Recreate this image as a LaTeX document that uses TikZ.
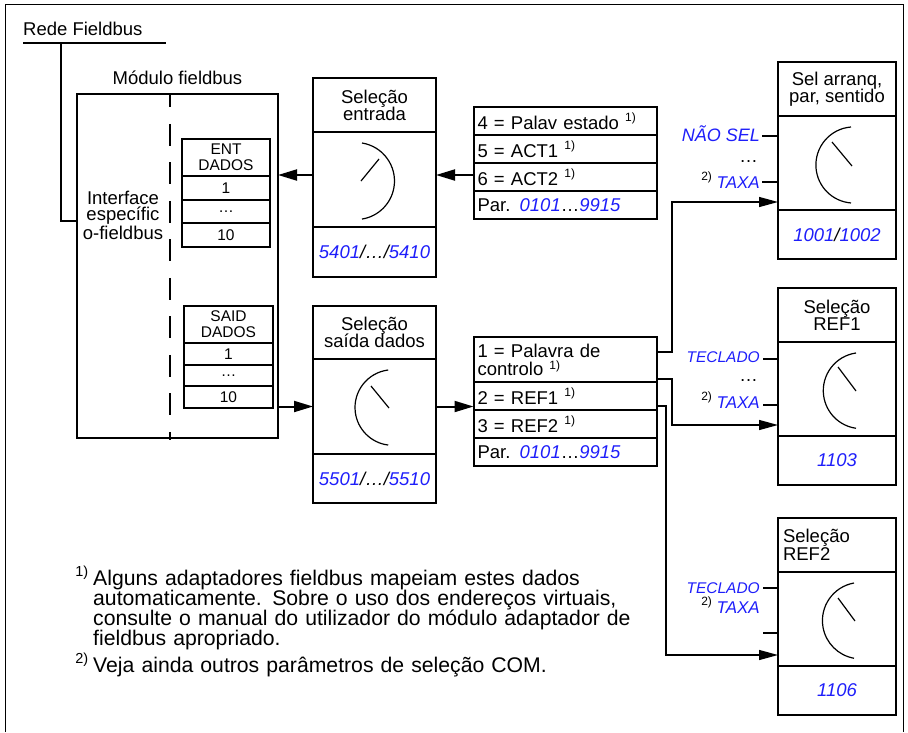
\documentclass[tikz,border=0pt]{standalone}
\usepackage{fontspec}
\setmainfont{Liberation Sans}
\usepackage{tikz}
\usetikzlibrary{arrows.meta,positioning}
\definecolor{ParBlue}{RGB}{30,30,250}
\newcommand{\lblfont}{\fontsize{18.5pt}{16.8pt}\selectfont}
\newcommand{\tabfont}{\fontsize{15.5pt}{16pt}\selectfont}
\newcommand{\notefont}{\fontsize{21.2pt}{20.3pt}\selectfont}
\newcommand{\fnsup}[1]{\raisebox{7.5pt}{\fontsize{12pt}{12pt}\selectfont #1}}
\newcommand{\notesup}[1]{\raisebox{8.5pt}{\fontsize{14.5pt}{14.5pt}\selectfont #1}}
\newcommand{\pnum}[1]{\textcolor{ParBlue}{\textit{#1}}}
\setlength{\lineskiplimit}{-30pt}

\begin{document}
\begin{tikzpicture}[
    x=1pt, y=1pt,
    cellbox/.style={
        draw,
        line width=2pt,
        inner sep=0pt,
        outer sep=0pt,
        align=center,
        font=\lblfont
    },
    selhead/.style={cellbox, minimum width=123pt, minimum height=54pt},
    seldial/.style={cellbox, minimum width=123pt, minimum height=95pt},
    selpar/.style={cellbox, minimum width=123pt, minimum height=50pt, font=\lblfont\itshape},
    rhead/.style={cellbox, minimum width=118pt, minimum height=54pt},
    rdial/.style={cellbox, minimum width=118pt, minimum height=94pt},
    rpar/.style={cellbox, minimum width=118pt, minimum height=49pt, font=\lblfont\itshape},
    listrow/.style={cellbox, minimum height=28pt, text width=175.5pt, inner xsep=4pt, align=left},
    tabrow/.style={cellbox, font=\tabfont, minimum width=88pt, minimum height=23.7pt},
    tabhead/.style={tabrow, minimum height=37pt},
    optlbl/.style={inner sep=0pt, anchor=base east, text=ParBlue},
    flow/.style={-{Triangle[length=19pt, width=11pt]}, line width=2pt},
    link/.style={-{Triangle[length=19pt, width=10pt]}, line width=1.3pt},
    wire/.style={line width=2pt},
    tick/.style={line width=2pt},
    dial/.style={line width=1.2pt}
]
    \useasboundingbox (0,0) rectangle (908,-732);
    % outer frame
    \draw[line width=1pt] (5.5,-732) -- (5.5,-4) -- (903,-4) -- (903,-732);

    % fieldbus network
    \node[anchor=base west, inner sep=0pt, font=\lblfont] (net) at (23,-35) {Rede Fieldbus};
    \coordinate (netL) at (23,-43);
    \coordinate (netR) at (166,-43);
    \coordinate (netTap) at (61,-43);
    \draw[wire] (netL) -- (netR);

    % fieldbus module
    \node[draw, line width=2pt, outer sep=0pt, minimum width=201pt, minimum height=344pt] (module) at (177.5,-266) {};
    \node[font=\lblfont, inner sep=0pt, above=9pt of module] (modlbl) {Módulo fieldbus};
    \draw[wire] (netTap) |- ([yshift=45pt]module.west);
    \coordinate (dashTop) at (170,-94);
    \coordinate (dashBot) at (170,-440);
    \draw[wire, dash pattern=on 22pt off 16.5pt, dash phase=8.6pt] (dashTop) -- (dashBot);
    \node[font=\lblfont, text width=90pt, align=center, inner sep=0pt, anchor=base] (iface) at (123,-204) {Interface\\específic\\o-fieldbus};

    \node[tabhead] (entHead) at (226,-157.5) {ENT\\DADOS};
    \node[tabrow, below=0pt of entHead] (ent1) {1};
    \node[tabrow, below=0pt of ent1] (ent2) {…};
    \node[tabrow, below=0pt of ent2] (ent3) {10};

    \node[tabhead, minimum width=89pt] (saidHead) at (228.5,-324.5) {SAID\\DADOS};
    \node[tabrow, minimum width=89pt, minimum height=21.7pt, below=0pt of saidHead] (said1) {1};
    \node[tabrow, minimum width=89pt, minimum height=21.7pt, below=0pt of said1] (said2) {…};
    \node[tabrow, minimum width=89pt, minimum height=21.7pt, below=0pt of said2] (said3) {10};

    % input selection
    \node[selhead] (inHead) at (374.5,-105) {Seleção\\entrada};
    \node[seldial, below=0pt of inHead] (inDial) {};
    \node[selpar, below=0pt of inDial] (inPar) {\pnum{5401}/…/\pnum{5410}};
    \draw[dial] ([shift={(-12.5,36.5)}]inDial.center) arc[start angle=81, end angle=-81, radius=38.5];
    \draw[dial] ([shift={(-13.5,-1.5)}]inDial.center) -- ++(18,22);

    % output selection
    \node[selhead, minimum height=53pt] (outHead) at (374.5,-332.5) {Seleção\\saída dados};
    \node[seldial, below=0pt of outHead] (outDial) {};
    \node[selpar, minimum height=49pt, below=0pt of outDial] (outPar) {\pnum{5501}/…/\pnum{5510}};
    \draw[dial] ([shift={(13.7,36.5)}]outDial.center) arc[start angle=97, end angle=263, radius=37.8];
    \draw[dial] ([shift={(-3.5,20.5)}]outDial.center) -- ++(18,-22);

    % actual values list
    \node[listrow] (inRow1) at (565.25,-121) {4 = Palav estado \fnsup{1)}};
    \node[listrow, below=0pt of inRow1] (inRow2) {5 = ACT1 \fnsup{1)}};
    \node[listrow, below=0pt of inRow2] (inRow3) {6 = ACT2 \fnsup{1)}};
    \node[listrow, below=0pt of inRow3] (inRow4) {Par. \pnum{0101}…\pnum{9915}};

    % control data list
    \node[listrow, minimum height=45pt] (outRow1) at (565.25,-359.5) {1 = Palavra de\\[1pt]controlo \raisebox{6pt}{\fontsize{12pt}{12pt}\selectfont 1)}};
    \node[listrow, below=0pt of outRow1] (outRow2) {2 = REF1 \fnsup{1)}};
    \node[listrow, below=0pt of outRow2] (outRow3) {3 = REF2 \fnsup{1)}};
    \node[listrow, below=0pt of outRow3] (outRow4) {Par. \pnum{0101}…\pnum{9915}};

    % start/stop/direction selection
    \node[rhead] (aHead) at (837,-89) {Sel arranq,\\par, sentido};
    \node[rdial, below=0pt of aHead] (aDial) {};
    \node[rpar, below=0pt of aDial] (aPar) {\pnum{1001}/\pnum{1002}};
    \draw[dial] ([shift={(14,36)}]aDial.center) arc[start angle=94.5, end angle=265.5, radius=38.1];
    \draw[dial] ([shift={(-5,21)}]aDial.center) -- ++(20,-24);

    % REF1 selection
    \node[rhead] (bHead) at (837,-315) {Seleção\\REF1};
    \node[rdial, below=0pt of bHead] (bDial) {};
    \node[rpar, below=0pt of bDial] (bPar) {\pnum{1103}};
    \draw[dial] ([shift={(19,36)}]bDial.center) arc[start angle=98, end angle=262, radius=38];
    \draw[dial] ([shift={(1,22)}]bDial.center) -- ++(18,-24);

    % REF2 selection
    \node[rhead, text width=108pt, inner xsep=5pt, align=left] (cHead) at (837,-545) {Seleção\\REF2};
    \node[rdial, below=0pt of cHead] (cDial) {};
    \node[rpar, below=0pt of cDial] (cPar) {\pnum{1106}};
    \draw[dial] ([shift={(17,36)}]cDial.center) arc[start angle=100, end angle=260, radius=38.2];
    \draw[dial] ([shift={(1,21)}]cDial.center) -- ++(17,-23);

    % selector inputs
    \node[optlbl, font=\fontsize{18pt}{18pt}\selectfont\itshape] (aOpt1) at (760,-141.5) {NÃO SEL};
    \node[inner sep=0pt, anchor=base east, font=\lblfont] (aDots) at (758,-162) {…};
    \node[optlbl, font=\fontsize{17pt}{17pt}\selectfont\itshape] (aOpt2) at (760,-188) {\textcolor{black}{\upshape\fnsup{2)}} TAXA};
    \node[optlbl, font=\fontsize{15.5pt}{15.5pt}\selectfont\itshape] (bOpt1) at (760,-362) {TECLADO};
    \node[inner sep=0pt, anchor=base east, font=\lblfont] (bDots) at (758,-381.5) {…};
    \node[optlbl, font=\fontsize{17pt}{17pt}\selectfont\itshape] (bOpt2) at (760,-408) {\textcolor{black}{\upshape\fnsup{2)}} TAXA};
    \node[optlbl, font=\fontsize{15.5pt}{15.5pt}\selectfont\itshape] (cOpt1) at (760,-593) {TECLADO};
    \node[optlbl, font=\fontsize{17pt}{17pt}\selectfont\itshape] (cOpt2) at (760,-613) {\textcolor{black}{\upshape\fnsup{2)}} TAXA};

    \coordinate (aT1) at (762,-136);
    \coordinate (aT2) at (762,-182);
    \coordinate (bT1) at (763,-359);
    \coordinate (bT2) at (763,-405);
    \coordinate (cT1) at (763,-588);
    \coordinate (cT2) at (763,-633);
    \draw[tick] (aT1) -- (aT1 -| aDial.west);
    \draw[tick] (aT2) -- (aT2 -| aDial.west);
    \draw[tick] (bT1) -- (bT1 -| bDial.west);
    \draw[tick] (bT2) -- (bT2 -| bDial.west);
    \draw[tick] (cT1) -- (cT1 -| cDial.west);
    \draw[tick] (cT2) -- (cT2 -| cDial.west);

    % data flow
    \coordinate (inArr) at ([yshift=2pt]inRow3.west);
    \draw[flow] (inArr) -- (inArr -| inDial.east);
    \draw[flow] (inArr -| inDial.west) -- (inArr -| module.east);
    \draw[flow] (outDial.west -| module.east) -- (outDial.west);
    \draw[flow] (outDial.east) -- (outDial.east -| outRow2.west);

    \coordinate (o1) at ([yshift=7.5pt]outRow1.east);
    \coordinate (o2) at ([yshift=3pt]outRow1.south east);
    \coordinate (o3) at ([yshift=4pt]outRow2.south east);
    \draw[link] (o1) -- ++(15,0) |- ([yshift=8pt]aDial.south west);
    \draw[link] (o2) -- ++(15,0) |- ([yshift=11pt]bDial.south west);
    \draw[link] (o3) -- ++(9,0) |- ([yshift=11pt]cDial.south west);

    % footnotes
    \node[font=\notefont, text width=560pt, align=left, inner sep=0pt, anchor=base west] (note1) at (93,-585) {\llap{\notesup{1)}\hspace{5pt}}Alguns adaptadores fieldbus mapeiam estes dados\\automaticamente. Sobre o uso dos endereços virtuais,\\consulte o manual do utilizador do módulo adaptador de\\fieldbus apropriado.};
    \node[font=\notefont, text width=560pt, align=left, inner sep=0pt, anchor=base west] (note2) at (93,-672) {\llap{\notesup{2)}\hspace{5pt}}Veja ainda outros parâmetros de seleção COM.};
\end{tikzpicture}
\end{document}
